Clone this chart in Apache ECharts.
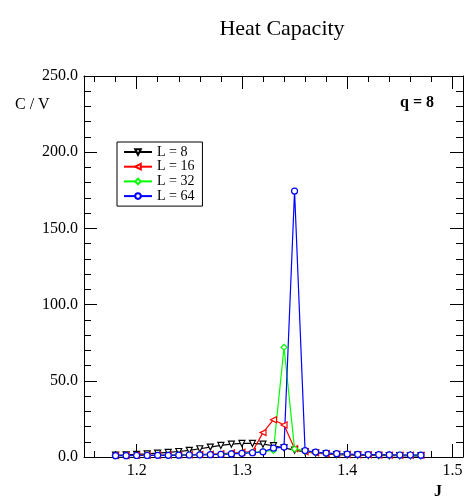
<!DOCTYPE html>
<html>
<head>
<meta charset="utf-8">
<script src="https://cdn.jsdelivr.net/npm/echarts@6/dist/echarts.min.js"></script>
<style>html,body{margin:0;padding:0;background:#fff}#c{width:467px;height:504px}</style>
</head>
<body>
<div id="c"></div>
<script>
var J = [1.18,1.19,1.20,1.21,1.22,1.23,1.24,1.25,1.26,1.27,1.28,1.29,1.30,1.31,1.32,1.33,1.34,1.35,1.36,1.37,1.38,1.39,1.40,1.41,1.42,1.43,1.44,1.45,1.46,1.47];
var L8  = [1.2,1.4,1.7,2.0,2.5,3.0,3.6,4.4,5.4,6.5,7.6,8.4,8.9,8.9,8.4,7.4,6.0,4.5,3.4,2.6,2.0,1.6,1.4,1.2,1.1,1.0,0.9,0.9,0.8,0.8];
var L16 = [1.0,1.0,1.1,1.1,1.2,1.3,1.4,1.5,1.7,1.9,2.2,2.6,3.1,3.6,16.0,24.5,21.0,5.5,3.5,2.7,2.2,1.9,1.7,1.5,1.4,1.3,1.2,1.2,1.1,1.1];
var L32 = [0.9,0.9,1.0,1.0,1.1,1.2,1.3,1.4,1.5,1.7,1.9,2.2,2.6,3.0,3.6,4.3,72.0,5.3,3.8,3.0,2.5,2.1,1.8,1.6,1.5,1.4,1.3,1.3,1.2,1.2];
var L64 = [0.9,0.9,1.0,1.0,1.1,1.1,1.2,1.3,1.4,1.5,1.7,2.0,2.4,2.8,3.4,5.8,6.5,174.5,4.2,3.2,2.6,2.2,1.9,1.7,1.6,1.5,1.4,1.3,1.3,1.2];
var xMajor = [1.2,1.3,1.4,1.5];
var xMinor = [1.16,1.18,1.22,1.24,1.26,1.28,1.32,1.34,1.36,1.38,1.42,1.44,1.46,1.48];
var yMajor = [0,50,100,150,200,250];
var yMinor = [10,20,30,40,60,70,80,90,110,120,130,140,160,170,180,190,210,220,230,240];

var FONT = 'Liberation Serif';
function pairs(ys){ return J.map(function(x,i){ return [x, ys[i]]; }); }

function xAx(pos, vals, len, labels, line){
  return {type:'value', min:1.15, max:1.51, position:pos, gridIndex:0,
    axisLine:{show:line, onZero:false, lineStyle:{color:'#000', width:1}},
    axisTick:{show:true, inside:true, length:len, customValues:vals, lineStyle:{color:'#000', width:1}},
    axisLabel:{show:labels, customValues:vals, margin:6, color:'#000', fontFamily:FONT, fontSize:16,
      formatter:function(v){ return v.toFixed(1); }},
    splitLine:{show:false}};
}
function yAx(pos, vals, len, labels, line){
  return {type:'value', min:0, max:250, position:pos, gridIndex:0,
    axisLine:{show:line, onZero:false, lineStyle:{color:'#000', width:1}},
    axisTick:{show:true, inside:true, length:len, customValues:vals, lineStyle:{color:'#000', width:1}},
    axisLabel:{show:labels, customValues:vals, margin:6, color:'#000', fontFamily:FONT, fontSize:16,
      formatter:function(v){ return v.toFixed(1); }},
    splitLine:{show:false}};
}

function ser(name, data, color, symbol, rot){
  return {name:name, type:'line', data:pairs(data), xAxisIndex:0, yAxisIndex:0,
    symbol:symbol, symbolSize:6, symbolRotate:rot, showSymbol:true,
    lineStyle:{color:color, width:1.2},
    itemStyle:{color:'#fff', borderColor:color, borderWidth:1.2},
    emphasis:{disabled:true}, animation:false};
}

var chart = echarts.init(document.getElementById('c'), null, {renderer:'canvas'});
chart.setOption({
  animation:false,
  backgroundColor:'#fff',
  title:{text:'Heat Capacity', left:277, top:13, textAlign:'center',
    textStyle:{fontFamily:FONT, fontSize:22, fontWeight:'normal', color:'#000'}},
  grid:{left:84, right:4, top:76, bottom:47, containLabel:false},
  xAxis:[
    xAx('bottom', xMajor, 13, true, true),
    xAx('bottom', xMinor, 6, false, false),
    xAx('top', xMajor, 13, false, true),
    xAx('top', xMinor, 6, false, false)
  ],
  yAxis:[
    yAx('left', yMajor, 13, true, true),
    yAx('left', yMinor, 7, false, false),
    yAx('right', yMajor, 13, false, true),
    yAx('right', yMinor, 7, false, false)
  ],
  legend:{orient:'vertical', left:117, top:142, itemWidth:28, itemHeight:7, itemGap:0.7,
    padding:[3,8,3,6], borderColor:'#000', borderWidth:1, backgroundColor:'#fff',
    textStyle:{fontFamily:FONT, fontSize:14, lineHeight:14, color:'#000'},
    data:['L = 8','L = 16','L = 32','L = 64']},
  graphic:[
    {type:'text', left:15, top:97, style:{text:'C / V', fontFamily:FONT, fontSize:16, fill:'#000'}},
    {type:'text', left:400, top:95, style:{text:'q = 8', fontFamily:FONT, fontSize:16, fontWeight:'bold', fill:'#000'}},
    {type:'text', left:434, top:484, style:{text:'J', fontFamily:FONT, fontSize:16, fontWeight:'bold', fill:'#000'}}
  ],
  series:[
    ser('L = 8', L8, '#000000', 'triangle', 180),
    ser('L = 16', L16, '#ff0000', 'triangle', 90),
    ser('L = 32', L32, '#00ff00', 'diamond', 0),
    ser('L = 64', L64, '#0000ff', 'circle', 0)
  ]
});
</script>
</body>
</html>
